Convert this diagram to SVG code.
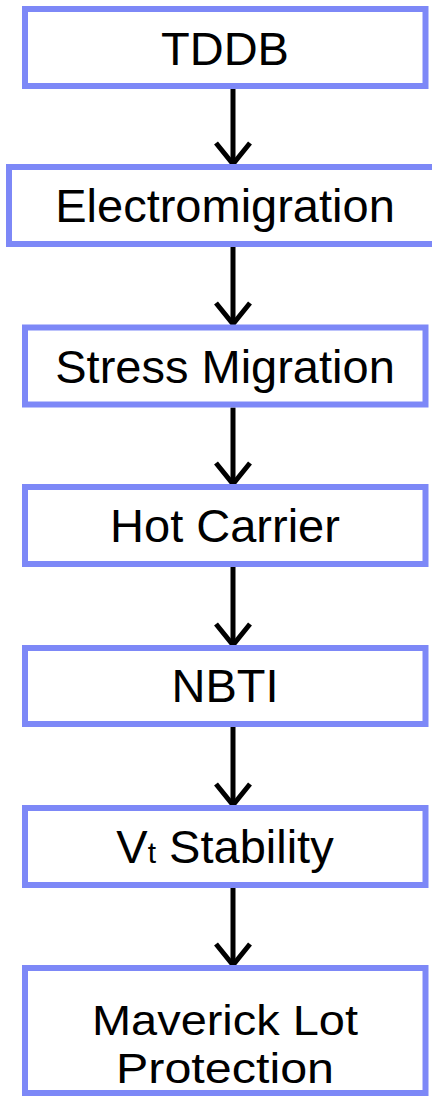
<svg xmlns="http://www.w3.org/2000/svg" width="432" height="1096" viewBox="0 0 432 1096">
  <style>
    .box { fill: #ffffff; stroke: #7d88f7; stroke-width: 6; }
    .label { font-family: "Liberation Sans", Arial, sans-serif; font-size: 47px; fill: #000000; text-anchor: middle; }
    .tight { font-size: 43px; }
    .sub { font-size: 30px; }
    .conn line, .conn polyline { fill: none; stroke: #000000; stroke-width: 5; stroke-linejoin: miter; stroke-linecap: butt; }
  </style>
  <rect x="0" y="0" width="432" height="1096" fill="#ffffff"/>

  <g id="connectors" class="conn">
    <g id="c1"><line x1="233" y1="89" x2="233" y2="161"/><polyline points="216,143 233,164 250,143"/></g>
    <g id="c2"><line x1="233" y1="247" x2="233" y2="321"/><polyline points="216,303 233,324 250,303"/></g>
    <g id="c3"><line x1="233" y1="407.5" x2="233" y2="481"/><polyline points="216,463 233,484 250,463"/></g>
    <g id="c4"><line x1="233" y1="567" x2="233" y2="642"/><polyline points="216,624 233,645 250,624"/></g>
    <g id="c5"><line x1="233" y1="727" x2="233" y2="802"/><polyline points="216,784 233,805 250,784"/></g>
    <g id="c6"><line x1="233" y1="888" x2="233" y2="962"/><polyline points="216,944 233,965 250,944"/></g>
  </g>

  <g id="tddb">
    <rect class="box" x="25" y="9" width="400.5" height="77"/>
    <text class="label" x="225" y="64.5">TDDB</text>
  </g>
  <g id="electromigration">
    <rect class="box" x="9" y="167" width="432" height="77"/>
    <text class="label" x="225" y="221.5">Electromigration</text>
  </g>
  <g id="stress-migration">
    <rect class="box" x="25" y="327.5" width="400.5" height="77"/>
    <text class="label" x="225" y="382.5">Stress Migration</text>
  </g>
  <g id="hot-carrier">
    <rect class="box" x="25" y="487" width="400.5" height="77"/>
    <text class="label" x="225" y="542">Hot Carrier</text>
  </g>
  <g id="nbti">
    <rect class="box" x="25" y="648" width="400.5" height="76"/>
    <text class="label" x="225" y="702">NBTI</text>
  </g>
  <g id="vt-stability">
    <rect class="box" x="25" y="808" width="400.5" height="77"/>
    <text class="label" x="225" y="863">V<tspan class="sub">t</tspan> Stability</text>
  </g>
  <g id="maverick-lot-protection">
    <rect class="box" x="25" y="968" width="400.5" height="125"/>
    <text class="label tight" x="225" y="1034.5" textLength="266" lengthAdjust="spacingAndGlyphs">Maverick Lot</text>
    <text class="label tight" x="225" y="1082.5" textLength="218" lengthAdjust="spacingAndGlyphs">Protection</text>
  </g>
</svg>
